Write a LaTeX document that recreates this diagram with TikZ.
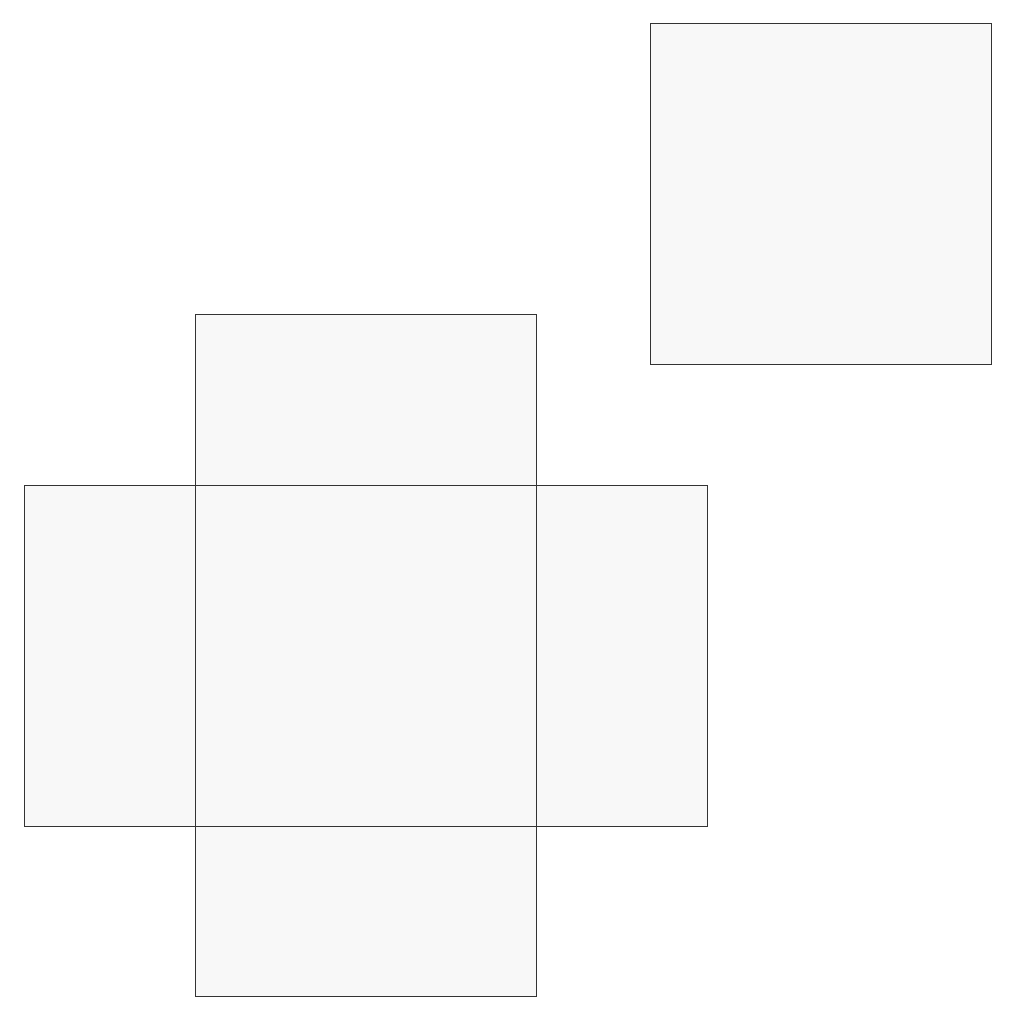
\documentclass[tikz,border=0pt]{standalone}
\definecolor{facefill}{HTML}{F8F8F8}
\definecolor{faceline}{HTML}{333333}
\begin{document}
\begin{tikzpicture}[x=1pt,y=-1pt,
  face/.style={draw=faceline,fill=facefill,line width=0.9pt}]
\useasboundingbox (0,0) rectangle (1024,1024);
\fill[white] (0,0) rectangle (1024,1024);
\draw[face] (650,23) rectangle (991,364);
\draw[face] (195,314) rectangle (536,485);
\draw[face] (24,485) rectangle (195,826);
\draw[face] (536,485) rectangle (707,826);
\draw[face] (195,826) rectangle (536,996);
\draw[face] (195,485) rectangle (536,826);
\end{tikzpicture}
\end{document}
